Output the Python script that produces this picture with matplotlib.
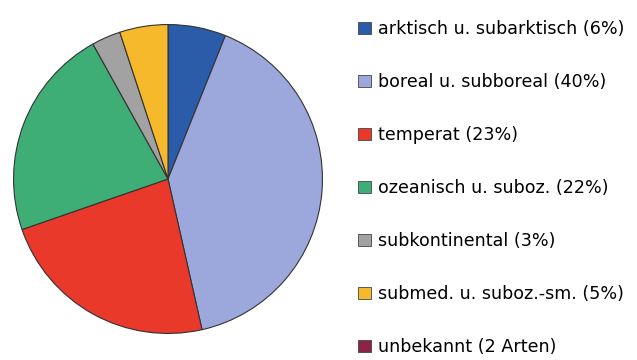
import matplotlib.pyplot as plt
from matplotlib.patches import Patch

labels = ['arktisch u. subarktisch (6%)', 'boreal u. subboreal (40%)', 'temperat (23%)',
          'ozeanisch u. suboz. (22%)', 'subkontinental (3%)', 'submed. u. suboz.-sm. (5%)',
          'unbekannt (2 Arten)']
shares = [6, 40, 23, 22, 3, 5, 0]
colors = ['#2a5caa', '#9ca8dc', '#e8392a', '#3fae76', '#a2a2a2', '#f6b92c', '#8c2446']

fig = plt.figure(figsize=(6.37, 3.6), dpi=100)
ax = fig.add_axes([12 / 637, 25 / 360, 312 / 637, 312 / 360])

# unbekannt has no share, only shown in the legend
ax.pie(shares[:-1], colors=colors[:-1], startangle=90, counterclock=False,
       wedgeprops=dict(edgecolor='#333333', linewidth=0.8))
ax.set_aspect('equal')
ax.set_xlim(-1.01, 1.01)
ax.set_ylim(-1.01, 1.01)

handles = [Patch(facecolor=c, edgecolor='#444444', linewidth=0.6) for c in colors]
fig.legend(handles, labels, loc='upper left', bbox_to_anchor=(346 / 637, 1 - 8 / 360),
           frameon=False, handlelength=0.7, handleheight=0.7,
           handletextpad=0.4, labelspacing=2.0, prop={'size': 12.6}, borderpad=0.2)

fig.savefig('out.png', dpi=100)
